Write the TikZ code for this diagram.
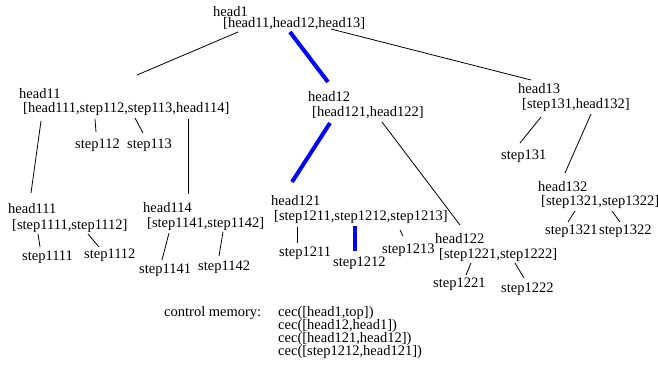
\documentclass[tikz,border=0pt]{standalone}
\usepackage{fontspec}
\setmainfont{Liberation Serif}
\begin{document}
\begin{tikzpicture}[x=1pt,y=-1pt,
  lbl/.style={anchor=base west,inner sep=0pt,font=\fontsize{14.5}{14}\selectfont},
  edge/.style={draw=black,line width=0.8pt},
  hot/.style={draw=blue,line width=4pt}]
\useasboundingbox[fill=white] (0,0) rectangle (658,373);
% nodes
\node[lbl] (h1) at (213,16) {head1};
\node[lbl] (h1l) at (223,27) {[head11,head12,head13]};
\node[lbl] (h11) at (19,98) {head11};
\node[lbl] (h11l) at (23,112) {[head111,step112,step113,head114]};
\node[lbl] (s112) at (75,148) {step112};
\node[lbl] (s113) at (127,148) {step113};
\node[lbl] (h12) at (308,101) {head12};
\node[lbl] (h12l) at (312,116) {[head121,head122]};
\node[lbl] (h13) at (518,93) {head13};
\node[lbl] (h13l) at (522,108) {[step131,head132]};
\node[lbl] (s131) at (501,159) {step131};
\node[lbl] (h132) at (538,191) {head132};
\node[lbl] (h132l) at (541,205) {[step1321,step1322]};
\node[lbl] (s1321) at (545,234) {step1321};
\node[lbl] (s1322) at (599,234) {step1322};
\node[lbl] (h111) at (8,213) {head111};
\node[lbl] (h111l) at (12,229) {[step1111,step1112]};
\node[lbl] (s1111) at (22,260) {step1111};
\node[lbl] (s1112) at (84,258) {step1112};
\node[lbl] (h114) at (143,212) {head114};
\node[lbl] (h114l) at (147,227) {[step1141,step1142]};
\node[lbl] (s1141) at (139,273) {step1141};
\node[lbl] (s1142) at (198,270) {step1142};
\node[lbl] (h121) at (271,205) {head121};
\node[lbl] (h121l) at (274,220) {[step1211,step1212,step1213]};
\node[lbl] (s1211) at (279,256) {step1211};
\node[lbl] (s1212) at (333,266) {step1212};
\node[lbl] (s1213) at (382,253) {step1213};
\node[lbl] (h122) at (435,243) {head122};
\node[lbl] (h122l) at (439,258) {[step1221,step1222]};
\node[lbl] (s1221) at (433,287) {step1221};
\node[lbl] (s1222) at (501,292) {step1222};
\node[lbl] (cm) at (164,316) {control memory:};
\node[lbl] (cec1) at (278,316) {cec([head1,top])};
\node[lbl] (cec2) at (278,329) {cec([head12,head1])};
\node[lbl] (cec3) at (278,342) {cec([head121,head12])};
\node[lbl] (cec4) at (278,355) {cec([step1212,head121])};
% connectors
\draw[edge] ([shift={(15,5)}]h1l.base west) -- ([shift={(118,-23)}]h11.base west);
\draw[hot]  ([shift={(67,5)}]h1l.base west) -- ([shift={(20,-19)}]h12.base west);
\draw[edge] ([shift={(108,2)}]h1l.base west) -- ([shift={(13,-13)}]h13.base west);
\draw[edge] ([shift={(18,9)}]h11l.base west) -- ([shift={(23,-20)}]h111.base west);
\draw[edge] ([shift={(72,7)}]h11l.base west) -- ([shift={(21,-16)}]s112.base west);
\draw[edge] ([shift={(112,6)}]h11l.base west) -- ([shift={(16,-15)}]s113.base west);
\draw[edge] ([shift={(165,7)}]h11l.base west) -- ([shift={(45,-18)}]h114.base west);
\draw[hot]  ([shift={(18,7)}]h12l.base west) -- ([shift={(21,-23)}]h121.base west);
\draw[edge] ([shift={(70,6)}]h12l.base west) -- ([shift={(25,-18)}]h122.base west);
\draw[edge] ([shift={(19,9)}]h13l.base west) -- ([shift={(19,-16)}]s131.base west);
\draw[edge] ([shift={(69,6)}]h13l.base west) -- ([shift={(27,-18)}]h132.base west);
\draw[edge] ([shift={(34,6)}]h132l.base west) -- ([shift={(23,-12)}]s1321.base west);
\draw[edge] ([shift={(71,6)}]h132l.base west) -- ([shift={(21,-12)}]s1322.base west);
\draw[edge] ([shift={(26,5)}]h111l.base west) -- ([shift={(18,-13)}]s1111.base west);
\draw[edge] ([shift={(76,5)}]h111l.base west) -- ([shift={(15,-11)}]s1112.base west);
\draw[edge] ([shift={(22,6)}]h114l.base west) -- ([shift={(23,-13)}]s1141.base west);
\draw[edge] ([shift={(76,5)}]h114l.base west) -- ([shift={(21,-14)}]s1142.base west);
\draw[edge] ([shift={(23,7)}]h121l.base west) -- ([shift={(18,-13)}]s1211.base west);
\draw[hot]  ([shift={(81,6)}]h121l.base west) -- ([shift={(22,-15)}]s1212.base west);
\draw[edge] ([shift={(126,10)}]h121l.base west) -- ([shift={(21,-17)}]s1213.base west);
\draw[edge] ([shift={(32,5)}]h122l.base west) -- ([shift={(33,-12)}]s1221.base west);
\draw[edge] ([shift={(76,5)}]h122l.base west) -- ([shift={(23,-14)}]s1222.base west);
\end{tikzpicture}
\end{document}
